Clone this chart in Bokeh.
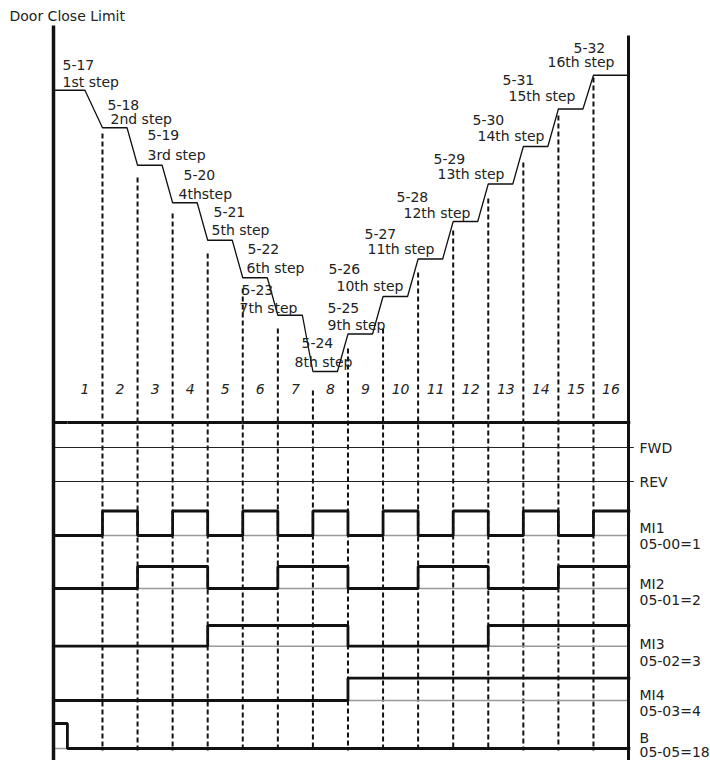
from bokeh.plotting import figure
from bokeh.models import Range1d
from bokeh.core.properties import value
from bokeh.embed import file_html
from bokeh.resources import INLINE

# ---------------- data ----------------
params = ["5-17", "5-18", "5-19", "5-20", "5-21", "5-22", "5-23", "5-24",
          "5-25", "5-26", "5-27", "5-28", "5-29", "5-30", "5-31", "5-32"]
step_names = ["1st step", "2nd step", "3rd step", "4thstep", "5th step", "6th step",
              "7th step", "8th step", "9th step", "10th step", "11th step", "12th step",
              "13th step", "14th step", "15th step", "16th step"]
speed = [42.5, 37.5, 32.5, 27.5, 22.5, 17.5, 12.5, 5.0,
         10.0, 15.0, 20.0, 25.0, 30.0, 35.0, 40.0, 44.5]
segments = ["1", "2", "3", "4", "5", "6", "7", "8",
            "9", "10", "11", "12", "13", "14", "15", "16"]

# signal states: first entry = before step 1, then steps 1..16
fwd = [1, 1, 1, 1, 1, 1, 1, 1, 1, 1, 1, 1, 1, 1, 1, 1, 1]
rev = [0, 0, 0, 0, 0, 0, 0, 0, 0, 0, 0, 0, 0, 0, 0, 0, 0]
mi1 = [0, 0, 1, 0, 1, 0, 1, 0, 1, 0, 1, 0, 1, 0, 1, 0, 1]
mi2 = [0, 0, 0, 1, 1, 0, 0, 1, 1, 0, 0, 1, 1, 0, 0, 1, 1]
mi3 = [0, 0, 0, 0, 0, 1, 1, 1, 1, 0, 0, 0, 0, 1, 1, 1, 1]
mi4 = [0, 0, 0, 0, 0, 0, 0, 0, 0, 1, 1, 1, 1, 1, 1, 1, 1]
brk = [1, 0, 0, 0, 0, 0, 0, 0, 0, 0, 0, 0, 0, 0, 0, 0, 0]
signal_names = ["FWD", "REV", "MI1", "MI2", "MI3", "MI4", "B"]
signal_params = ["", "", "05-00=1", "05-01=2", "05-02=3", "05-03=4", "05-05=18"]
title = "Door Close Limit"

# ---------------- layout / style ----------------
FONT = value("DejaVu Sans")
FS = "14px"
T_LEFT = -0.4        # left axis position in step units
T_RIGHT = 16.0
FIRST_HOLD = 0.5
HOLD = 0.7
SIG_END = 16.05
# baselines (page px) and heights of each signal row
SIG_BASE = [447, 481, 535, 588, 645.7, 700, 748]
SIG_H = [25, 25, 24.5, 22, 20.7, 22.3, 25]
DASH_TOP = [133, 177, 213, 253, 288, 328, 390, 348, 328, 272, 230, 198, 162, 115, 77]
DASH_BOTTOM = 750
SEG_LABEL_Y = 388
PARAM_POS = [(62, 64), (107, 104), (147, 134), (183, 174), (213, 211), (247, 248),
             (241, 289), (301, 342), (327, 307), (328, 268), (364, 233), (396, 196),
             (433, 158), (472, 119), (502, 79), (573, 47)]
STEP_POS = [(62, 81), (110, 118), (147, 154), (178, 193), (211, 229), (246, 267),
            (239, 307), (294, 361), (327, 324), (336, 285), (367, 248), (403, 212),
            (437, 173), (477, 135), (508, 95), (547, 61)]
NAME_Y = [447.5, 481, 527, 583, 643, 694, 737]
PARAM_Y = [None, None, 543, 599, 660, 710, 751]
LABEL_X = 639

p = figure(width=710, height=760, output_backend="svg", toolbar_location=None,
           x_range=Range1d(-1.908, 18.337), y_range=Range1d(760, 0),
           x_axis_location=None, y_axis_location=None, min_border=0,
           outline_line_color=None, background_fill_color="white",
           border_fill_color="white")
p.grid.visible = False
p.extra_x_ranges = {"px": Range1d(0, 710)}
p.extra_y_ranges = {"speed": Range1d(-46.87, 54.47)}

# vertical dashed step boundaries
p.segment(x0=list(range(1, 16)), x1=list(range(1, 16)), y0=DASH_TOP,
          y1=[DASH_BOTTOM] * 15, line_color="#111", line_width=2, line_dash="5 3")

# speed curve
xs = [T_LEFT]
ys = [speed[0]]
for i in range(16):
    if i > 0:
        xs.append(i)
        ys.append(speed[i])
    end = FIRST_HOLD if i == 0 else (i + HOLD if i < 15 else T_RIGHT)
    xs.append(end)
    ys.append(speed[i])
p.line(xs, ys, y_range_name="speed", line_color="#111", line_width=1.3)

# signals
edges = [T_LEFT] + list(range(0, 16)) + [SIG_END]
states = [fwd, rev, mi1, mi2, mi3, mi4, brk]
for k, st in enumerate(states):
    base = SIG_BASE[k]
    h = SIG_H[k]
    if k < 2:
        p.line([T_LEFT, T_RIGHT + 0.15], [base, base], line_color="#222", line_width=1.2)
        for j, s in enumerate(st):
            if s:
                p.line([edges[j], edges[j + 1]], [base - h, base - h],
                       line_color="#111", line_width=3)
    else:
        p.line([T_LEFT, T_RIGHT], [base, base], line_color="#999", line_width=1.5)
        sx, sy = [], []
        for j, s in enumerate(st):
            lvl = base - h * s
            sx += [edges[j], edges[j + 1]]
            sy += [lvl, lvl]
        p.line(sx, sy, line_color="#111", line_width=2.8)

# axes lines
p.segment(x0=[53], x1=[53], y0=[25], y1=[760], x_range_name="px",
          line_color="#111", line_width=3.5)
p.segment(x0=[628], x1=[628], y0=[35], y1=[760], x_range_name="px",
          line_color="#111", line_width=3)

# segment numbers
p.text(x=[i + 0.5 for i in range(16)], y=[SEG_LABEL_Y] * 16, text=segments,
       text_font=FONT, text_font_size=FS, text_font_style="italic",
       text_align="center", text_baseline="middle", text_color="#222")

# step labels
p.text(x=[q[0] for q in PARAM_POS], y=[q[1] for q in PARAM_POS], text=params,
       x_range_name="px", text_font=FONT, text_font_size=FS,
       text_align="left", text_baseline="middle", text_color="#222")
p.text(x=[q[0] for q in STEP_POS], y=[q[1] for q in STEP_POS], text=step_names,
       x_range_name="px", text_font=FONT, text_font_size=FS,
       text_align="left", text_baseline="middle", text_color="#222")

# right signal labels
p.text(x=[LABEL_X] * 7, y=NAME_Y, text=signal_names, x_range_name="px",
       text_font=FONT, text_font_size=FS, text_align="left",
       text_baseline="middle", text_color="#222")
pv = [(t, y) for t, y in zip(signal_params, PARAM_Y) if t]
p.text(x=[LABEL_X] * len(pv), y=[v[1] for v in pv], text=[v[0] for v in pv],
       x_range_name="px", text_font=FONT, text_font_size=FS, text_align="left",
       text_baseline="middle", text_color="#222")

# title
p.text(x=[9], y=[15], text=[title], x_range_name="px", text_font=FONT,
       text_font_size=FS, text_align="left", text_baseline="middle",
       text_color="#222")

open("out.html", "w").write(file_html(p, INLINE))
